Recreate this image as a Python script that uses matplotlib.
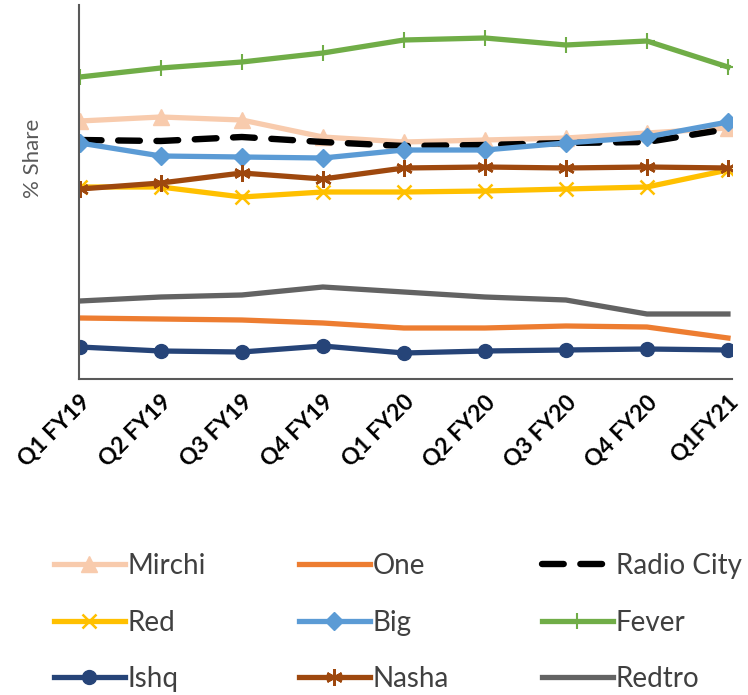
import matplotlib.pyplot as plt

plt.rcParams['font.family'] = ['Lato', 'DejaVu Sans']

quarters = ['Q1 FY19', 'Q2 FY19', 'Q3 FY19', 'Q4 FY19', 'Q1 FY20',
            'Q2 FY20', 'Q3 FY20', 'Q4 FY20', 'Q1FY21']

mirchi = [12.9, 13.1, 12.95, 12.1, 11.85, 11.95, 12.05, 12.3, 12.55]
one = [3.05, 3.0, 2.95, 2.8, 2.55, 2.55, 2.65, 2.6, 2.05]
radio_city = [11.95, 11.9, 12.1, 11.85, 11.65, 11.7, 11.8, 11.85, 12.5]
red = [9.6, 9.6, 9.1, 9.35, 9.35, 9.4, 9.5, 9.6, 10.45]
big = [11.8, 11.15, 11.1, 11.05, 11.45, 11.45, 11.8, 12.1, 12.85]
fever = [15.1, 15.55, 15.85, 16.3, 16.95, 17.05, 16.7, 16.9, 15.6]
ishq = [1.6, 1.4, 1.35, 1.65, 1.3, 1.4, 1.45, 1.5, 1.45]
nasha = [9.5, 9.8, 10.3, 10.0, 10.55, 10.6, 10.55, 10.6, 10.55]
redtro = [3.9, 4.1, 4.2, 4.6, 4.35, 4.1, 3.95, 3.25, 3.25]

fig = plt.figure(figsize=(7.48, 6.95), dpi=100)
ax = fig.add_axes([79 / 748, 1 - 379 / 695, (732 - 79) / 748, 374 / 695])

x = list(range(len(quarters)))
lw = 3.8

ax.plot(x, mirchi, color='#F8CBAD', lw=lw, marker='^', ms=11, label='Mirchi')
ax.plot(x, one, color='#ED7D31', lw=lw, label='One')
ax.plot(x, radio_city, color='black', lw=4.6, dashes=(3.4, 2.6),
        dash_capstyle='round', label='Radio City')
ax.plot(x, red, color='#FFC000', lw=lw, marker='x', ms=10, mew=1.8, label='Red')
ax.plot(x, big, color='#5B9BD5', lw=lw, marker='D', ms=9, label='Big')
ax.plot(x, fever, color='#70AD47', lw=lw, marker='+', ms=12, mew=1.5, label='Fever')
ax.plot(x, ishq, color='#264478', lw=lw, marker='o', ms=10, label='Ishq')
ax.plot(x, nasha, color='#9E480E', lw=lw, marker=(6, 2, 0), ms=12, mew=1.8,
        label='Nasha')
ax.plot(x, redtro, color='#636363', lw=lw, label='Redtro')

ax.set_xlim(-0.01, 8.05)
ax.set_ylim(0, 18.7)
ax.set_yticks([])
ax.set_xticks(x)
ax.set_xticklabels(quarters, rotation=45, ha='right', rotation_mode='anchor',
                   fontsize=16.5, fontweight='bold')
ax.tick_params(axis='x', length=0, pad=9)
for side in ['top', 'right']:
    ax.spines[side].set_visible(False)
for side in ['left', 'bottom']:
    ax.spines[side].set_color('#595959')
    ax.spines[side].set_linewidth(1.5)

fig.text(33 / 748, 1 - 158 / 695, '% Share', rotation=90, ha='center',
         va='center', fontsize=16, color='#595959')

# legend reads row-wise, matplotlib fills columns first
handles, labels = ax.get_legend_handles_labels()
order = [0, 3, 6, 1, 4, 7, 2, 5, 8]
leg = fig.legend([handles[i] for i in order], [labels[i] for i in order],
                 ncol=3, loc='upper left', bbox_to_anchor=(29 / 748, 1 - 528 / 695),
                 frameon=False, fontsize=20, handlelength=2.55, handletextpad=0.1,
                 columnspacing=3.35, labelspacing=1.1, numpoints=1)
for t in leg.get_texts():
    t.set_color('#404040')

fig.savefig('out.png', dpi=100)
